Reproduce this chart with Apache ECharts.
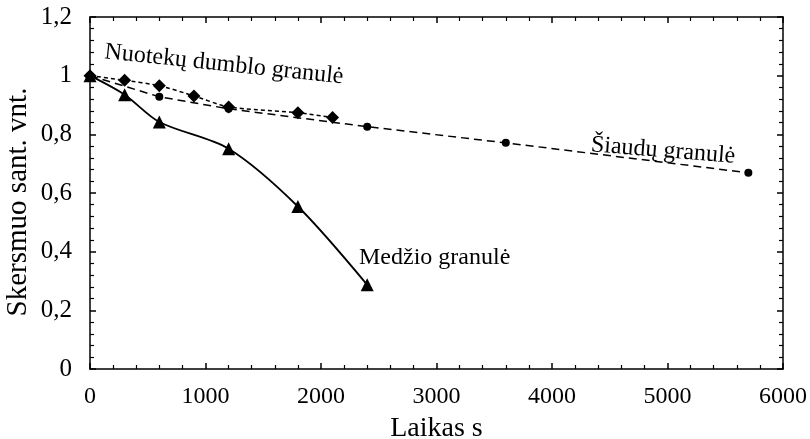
<!DOCTYPE html>
<html>
<head>
<meta charset="utf-8">
<script src="https://cdn.jsdelivr.net/npm/echarts@6/dist/echarts.min.js"></script>
<style>
html,body{margin:0;padding:0;background:#fff;}
#chart{width:810px;height:439px;}
</style>
</head>
<body>
<div id="chart"></div>
<script>
// Laikas (s) and relative diameter for each pellet type
var medzioTime = [0, 300, 600, 1200, 1800, 2400];
var medzioValue = [1, 0.935, 0.842, 0.751, 0.554, 0.287];

var nuotekuTime = [0, 300, 600, 900, 1200, 1800, 2100];
var nuotekuValue = [1, 0.984, 0.966, 0.931, 0.893, 0.874, 0.857];

var siauduTime = [0, 600, 1200, 2400, 3600, 5700];
var siauduValue = [1, 0.928, 0.887, 0.826, 0.771, 0.669];

var xTicks = { min: 0, max: 6000, step: 1000 };
var yTicks = { min: 0, max: 1.2, step: 0.2 };

function pairs(xs, ys) {
  return xs.map(function (x, i) { return [x, ys[i]]; });
}

var FONT = 'Liberation Serif';
var chart = echarts.init(document.getElementById('chart'), null, { renderer: 'canvas' });

function baseAxis(extra) {
  var a = {
    type: 'value',
    splitLine: { show: false },
    axisLine: { show: true, onZero: false, lineStyle: { color: '#000', width: 1.5 } },
    axisTick: { show: true, inside: true, length: 6, lineStyle: { color: '#000', width: 1.5 } },
    minorTick: { show: true, splitNumber: 5, length: 4, lineStyle: { color: '#000', width: 1.2 } },
    minorSplitLine: { show: false }
  };
  for (var k in extra) a[k] = extra[k];
  return a;
}

var option = {
  backgroundColor: '#fff',
  animation: false,
  grid: { left: 90, right: 27, top: 17, bottom: 70, containLabel: false, outerBoundsMode: 'none' },
  xAxis: [
    baseAxis({
      min: xTicks.min, max: xTicks.max, interval: xTicks.step,
      name: 'Laikas s', nameLocation: 'middle', nameGap: 46,
      nameTextStyle: { fontFamily: FONT, fontSize: 28, color: '#000' },
      axisLabel: {
        fontFamily: FONT, fontSize: 24, color: '#000', margin: 16,
        formatter: function (v) { return String(v); }
      }
    }),
    baseAxis({
      position: 'top',
      min: xTicks.min, max: xTicks.max, interval: xTicks.step,
      axisLabel: { show: false }
    })
  ],
  yAxis: [
    baseAxis({
      min: yTicks.min, max: yTicks.max, interval: yTicks.step,
      axisLabel: {
        fontFamily: FONT, fontSize: 25, color: '#000', margin: 18,
        formatter: function (v) { return String(+v.toFixed(1)).replace('.', ','); }
      }
    }),
    baseAxis({
      position: 'right',
      min: yTicks.min, max: yTicks.max, interval: yTicks.step,
      axisLabel: { show: false }
    })
  ],
  series: [
    {
      name: 'Šiaudų granulė',
      type: 'line',
      data: pairs(siauduTime, siauduValue),
      symbol: 'circle', symbolSize: 8,
      itemStyle: { color: '#000' },
      lineStyle: { color: '#000', width: 1.5, type: [8, 5] },
      z: 2
    },
    {
      name: 'Nuotekų dumblo granulė',
      type: 'line',
      data: pairs(nuotekuTime, nuotekuValue),
      symbol: 'diamond', symbolSize: 13,
      itemStyle: { color: '#000' },
      lineStyle: { color: '#000', width: 1.5, type: [4, 3] },
      smooth: 0.2,
      z: 3
    },
    {
      name: 'Medžio granulė',
      type: 'line',
      data: pairs(medzioTime, medzioValue),
      symbol: 'triangle', symbolSize: 13,
      itemStyle: { color: '#000' },
      lineStyle: { color: '#000', width: 1.8 },
      smooth: 0.3,
      z: 4
    }
  ],
  graphic: [
    {
      // vertical axis title
      type: 'text', x: 18, y: 202, rotation: Math.PI / 2,
      style: {
        text: 'Skersmuo sant. vnt.', font: '29px "Liberation Serif"', fill: '#000',
        align: 'center', verticalAlign: 'middle'
      }
    },
    {
      type: 'text', x: 106, y: 40, rotation: -0.105,
      style: { text: 'Nuotekų dumblo granulė', font: '24px "Liberation Serif"', fill: '#000' }
    },
    {
      type: 'text', x: 592, y: 133, rotation: -0.08,
      style: { text: 'Šiaudų granulė', font: '24px "Liberation Serif"', fill: '#000' }
    },
    {
      type: 'text', x: 359, y: 246,
      style: { text: 'Medžio granulė', font: '24px "Liberation Serif"', fill: '#000' }
    }
  ]
};

chart.setOption(option);
</script>
</body>
</html>
